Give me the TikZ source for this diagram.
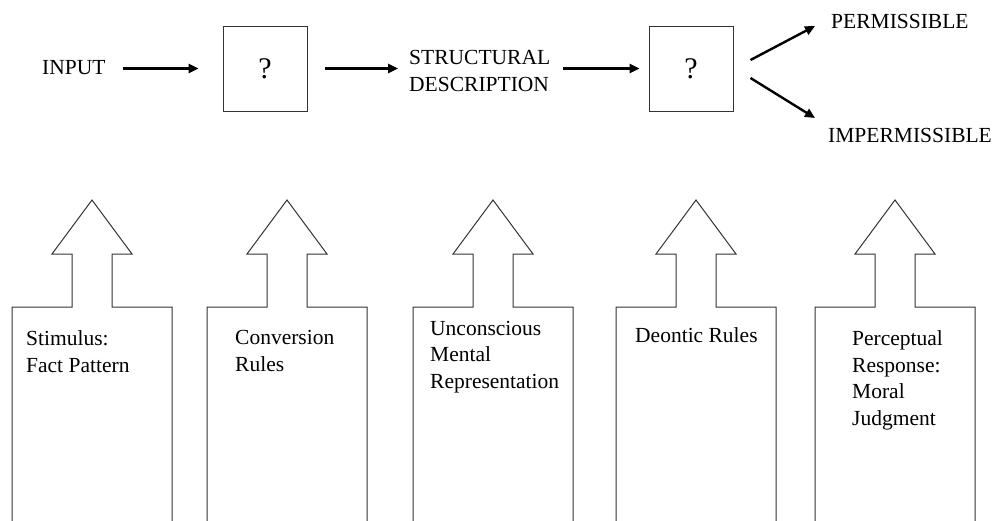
\documentclass[tikz,border=0pt]{standalone}
\usepackage{fontspec}
\setmainfont{Liberation Serif}
\usetikzlibrary{arrows.meta,calc}
\begin{document}
\begin{tikzpicture}[x=1pt,y=-1pt,
  lbl/.style={font=\fontsize{21.5}{26.5}\selectfont, inner sep=0pt, align=left},
  qbox/.style={draw=black!80, line width=1pt, minimum width=84pt, minimum height=85pt, inner sep=0pt, font=\fontsize{30}{34}\selectfont},
  flow/.style={line width=2.4pt, -{Triangle[length=10pt,width=9pt]}},
  uparrow/.style={draw=black!80, line width=1pt, line join=miter}
]
\useasboundingbox (0,0) rectangle (995,520);

% top row
\node[lbl, anchor=base west] (input) at (42,74) {INPUT};
\node[qbox] (q1) at (265,68.5) {?};
\node[lbl, anchor=base west] (sd) at (409,91) {STRUCTURAL\\DESCRIPTION};
\node[qbox] (q2) at (691,68.5) {?};
\node[lbl, anchor=base west] (perm) at (831,28) {PERMISSIBLE};
\node[lbl, anchor=base west] (imp) at (828,142) {IMPERMISSIBLE};

\draw[flow, shorten <=17pt, shorten >=24pt] (input.east |- q1.west) -- (q1.west);
\draw[flow, shorten <=17pt, shorten >=11pt] (q1.east) -- (q1.east -| sd.west);
\draw[flow, shorten <=13pt, shorten >=9pt] (sd.east |- q2.west) -- (q2.west);
\draw[flow] ($(q2.east)+(17,-8.5)$) -- ($(perm.west)+(-16,5)$);
\draw[flow] ($(q2.east)+(17,9.5)$) -- ($(imp.west)+(-13,-17)$);

% block arrows
\foreach \cx in {92,287,493,696,895}{
  \draw[uparrow] (\cx-80,522) -- (\cx-80,307) -- (\cx-20,307) -- (\cx-20,254)
    -- (\cx-40,254) -- (\cx,200) -- (\cx+40,254) -- (\cx+20,254) -- (\cx+20,307)
    -- (\cx+80,307) -- (\cx+80,522);
}

\node[lbl, anchor=base west] (t1) at (26,372) {Stimulus:\\Fact Pattern};
\node[lbl, anchor=base west] (t2) at (235,371) {Conversion\\Rules};
\node[lbl, anchor=base west] (t3) at (430,388) {Unconscious\\Mental\\Representation};
\node[lbl, anchor=base west] (t4) at (635,342) {Deontic Rules};
\node[lbl, anchor=base west] (t5) at (852,425) {Perceptual\\Response:\\Moral\\Judgment};
\end{tikzpicture}
\end{document}
